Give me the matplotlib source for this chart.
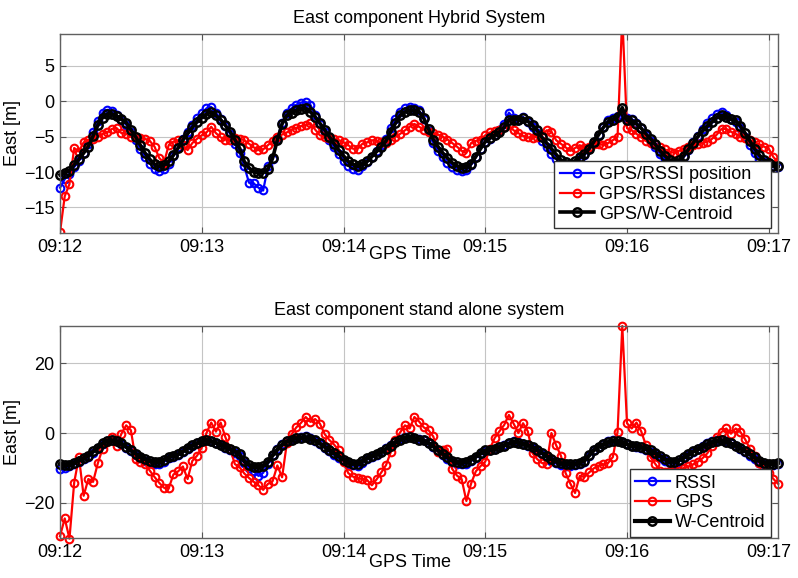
import numpy as np
import matplotlib
matplotlib.use("Agg")
import matplotlib.pyplot as plt

plt.rcParams['font.family'] = ['Liberation Sans', 'DejaVu Sans']

# seconds after 09:12:00, one sample every 2 s
step = 2
tick_pos = [0, 60, 120, 180, 240, 300]
tick_labels = ['09:12', '09:13', '09:14', '09:15', '09:16', '09:17']

# ---- hybrid system (top) ----
hyb_pos = [
    -12.2, -11.0, -10.2, -9.3, -8.4, -7.3, -6.0, -4.4, -2.8, -1.6,
    -1.2, -1.4, -2.0, -2.6, -3.3, -4.4, -5.5, -6.7, -7.8, -8.8,
    -9.5, -9.9, -9.5, -8.8, -7.7, -6.5, -5.3, -4.3, -3.3, -2.4,
    -1.7, -1.0, -0.8, -1.6, -2.5, -3.5, -4.6, -6.0, -7.3, -9.2,
    -11.5, -11.6, -12.2, -12.6, -9.2, -8.2, -5.2, -3.0, -1.6, -1.0,
    -0.5, -0.2, -0.1, -0.5, -2.0, -3.2, -4.3, -5.4, -6.5, -7.5,
    -8.4, -9.1, -9.6, -9.7, -9.2, -8.6, -7.8, -7.0, -6.2, -5.3,
    -3.8, -2.5, -1.5, -1.0, -0.8, -1.0, -1.3, -2.5, -4.2, -5.9,
    -7.0, -7.9, -8.7, -9.3, -9.7, -9.9, -9.7, -9.0, -7.9, -6.7,
    -5.8, -5.3, -4.8, -4.1, -3.2, -1.6, -2.4, -2.6, -2.2, -2.9,
    -3.6, -4.5, -5.6, -6.5, -7.4, -8.1, -8.8, -9.1, -9.2, -8.8,
    -8.2, -7.6, -6.8, -5.8, -4.7, -3.6, -2.7, -2.4, -2.1, -2.0,
    -2.3, -2.5, -3.0, -3.8, -4.8, -5.6, -6.4, -7.4, -8.2, -8.8,
    -9.0, -8.7, -7.9, -6.9, -5.8, -4.9, -3.9, -3.0, -2.4, -1.8,
    -1.5, -1.9, -2.5, -2.9, -3.8, -5.0, -6.2, -7.3, -8.1, -8.6,
    -8.9, -9.2, -9.3]

hyb_dist = [
    -18.5, -13.4, -11.7, -6.6, -7.1, -5.8, -5.5, -5.3, -5.0, -4.6,
    -4.4, -3.9, -3.8, -4.5, -4.6, -5.0, -5.1, -5.2, -5.3, -5.6,
    -6.4, -8.0, -8.7, -6.2, -5.7, -5.5, -6.2, -6.9, -5.9, -5.3,
    -4.8, -4.4, -3.6, -4.5, -5.1, -5.4, -5.5, -5.2, -5.3, -5.5,
    -6.0, -6.5, -6.9, -6.8, -6.2, -5.6, -5.0, -4.7, -4.4, -4.0,
    -3.8, -3.5, -3.4, -3.1, -4.0, -4.8, -5.0, -5.2, -5.3, -5.5,
    -5.8, -6.2, -6.7, -6.7, -6.0, -5.8, -5.5, -5.6, -5.8, -5.9,
    -5.4, -5.0, -4.6, -4.1, -3.6, -3.2, -3.6, -4.0, -4.3, -4.5,
    -4.7, -5.0, -5.4, -5.9, -6.4, -7.0, -7.3, -5.9, -5.6, -5.4,
    -4.8, -4.4, -4.2, -4.0, -3.7, -3.4, -4.1, -4.5, -4.9, -5.1,
    -5.2, -5.0, -4.8, -4.1, -4.3, -5.5, -6.0, -6.5, -7.0, -6.6,
    -6.2, -6.6, -6.4, -6.0, -6.0, -6.2, -5.9, -5.5, -5.0, 12.0,
    -3.8, -4.1, -4.6, -5.1, -5.6, -5.9, -6.1, -6.4, -6.8, -7.1,
    -7.3, -7.0, -6.7, -6.4, -6.2, -6.1, -5.9, -5.7, -5.3, -4.7,
    -3.9, -3.9, -4.3, -4.6, -5.0, -5.2, -5.5, -5.8, -6.1, -6.4,
    -6.7, -7.9, -8.6]

hyb_wc = [
    -10.4, -10.1, -9.8, -9.0, -8.2, -7.3, -6.4, -4.9, -3.4, -2.3,
    -1.8, -1.8, -2.1, -2.5, -3.0, -4.0, -5.0, -6.2, -7.3, -8.2,
    -8.9, -9.2, -9.0, -8.5, -7.6, -6.6, -5.5, -4.6, -3.7, -2.9,
    -2.3, -1.8, -1.5, -2.0, -2.6, -3.4, -4.3, -5.4, -6.6, -8.5,
    -9.4, -10.0, -10.1, -10.1, -9.6, -8.0, -5.5, -3.2, -2.0, -1.6,
    -1.3, -1.1, -1.0, -1.5, -2.2, -3.1, -4.0, -5.0, -6.0, -6.9,
    -7.7, -8.5, -8.9, -9.2, -8.9, -8.5, -7.8, -7.1, -6.4, -5.6,
    -4.3, -3.1, -2.0, -1.5, -1.3, -1.3, -1.5, -2.4, -3.9, -5.4,
    -6.4, -7.3, -8.0, -8.7, -9.1, -9.4, -9.3, -8.8, -7.8, -6.7,
    -5.7, -5.2, -4.8, -4.3, -3.7, -2.6, -2.6, -2.6, -2.4, -2.8,
    -3.4, -4.1, -5.1, -5.9, -6.7, -7.5, -8.3, -8.6, -8.8, -8.4,
    -7.9, -7.4, -6.7, -5.7, -4.7, -3.7, -2.9, -2.6, -2.2, -0.9,
    -2.7, -2.7, -3.2, -3.8, -4.6, -5.3, -6.1, -7.0, -7.7, -8.3,
    -8.6, -8.3, -7.7, -6.8, -5.9, -5.0, -4.2, -3.5, -2.9, -2.3,
    -2.0, -2.2, -2.5, -2.7, -3.5, -4.5, -5.6, -6.7, -7.6, -8.3,
    -8.7, -9.1, -9.2]

# ---- stand alone system (bottom) ----
sa_rssi = [
    -10.3, -10.0, -9.6, -8.9, -8.2, -7.5, -6.8, -5.6, -4.4, -3.1,
    -2.3, -2.0, -2.4, -3.1, -4.2, -5.3, -6.3, -7.2, -7.9, -8.5,
    -8.9, -9.0, -8.3, -7.3, -6.8, -6.3, -5.5, -4.5, -3.6, -2.9,
    -2.3, -2.0, -2.2, -2.8, -3.4, -4.2, -4.9, -5.7, -6.6, -8.6,
    -10.0, -11.0, -12.3, -11.4, -8.8, -6.4, -4.6, -3.2, -2.2, -1.7,
    -1.3, -1.2, -1.0, -1.5, -2.2, -3.2, -4.2, -5.3, -6.3, -7.2,
    -8.1, -8.9, -9.3, -9.4, -8.5, -7.4, -6.8, -6.2, -5.4, -4.4,
    -3.4, -2.4, -1.7, -1.2, -1.0, -1.4, -1.8, -2.1, -3.0, -4.0,
    -5.3, -6.4, -7.5, -8.4, -8.9, -9.0, -8.8, -8.0, -7.1, -6.0,
    -5.1, -4.9, -4.6, -4.1, -3.5, -2.8, -2.4, -2.7, -3.1, -3.6,
    -4.2, -5.1, -6.1, -7.0, -7.9, -8.7, -9.2, -9.4, -9.4, -9.3,
    -8.9, -8.2, -6.6, -5.0, -3.9, -3.1, -2.4, -2.0, -2.1, -2.6,
    -3.2, -3.7, -4.0, -4.3, -4.9, -5.5, -6.3, -7.1, -8.0, -8.7,
    -8.8, -8.2, -7.3, -6.3, -5.4, -4.6, -3.8, -3.0, -2.4, -2.0,
    -1.9, -2.4, -3.0, -3.7, -4.5, -5.5, -6.5, -7.5, -8.5, -9.0,
    -9.2, -9.1, -8.9]

sa_gps = [
    -29.6, -24.5, -30.3, -14.2, -6.9, -18.0, -13.2, -14.0, -8.7, -4.5,
    -2.6, -1.2, -3.6, -0.2, 2.2, 0.8, -7.5, -8.2, -8.9, -10.8,
    -12.6, -14.3, -15.7, -15.9, -11.9, -11.0, -9.6, -13.2, -8.0, -6.5,
    -4.2, 0.0, 3.0, 0.4, 3.0, -1.2, -4.5, -8.9, -9.8, -11.6,
    -12.9, -14.0, -15.0, -16.3, -14.6, -13.8, -9.3, -12.7, -3.0, -0.4,
    1.6, 2.9, 4.6, 3.2, 4.0, 2.7, -0.3, -2.0, -3.3, -5.0,
    -8.2, -11.5, -12.5, -13.0, -13.2, -13.5, -15.0, -13.3, -11.3, -9.2,
    -5.5, -2.0, 0.2, 2.2, 1.3, 4.6, 3.3, 1.6, 0.8, -1.0,
    -5.5, -5.0, -4.5, -10.3, -12.2, -13.2, -19.5, -14.5, -11.0, -9.5,
    -8.2, -4.5, -1.4, 0.5, 2.3, 5.2, 2.7, 0.0, 2.8, 0.5,
    -5.8, -7.5, -8.6, -8.9, 0.0, -3.5, -6.5, -11.5, -14.5, -17.2,
    -12.3, -12.6, -11.3, -10.1, -9.4, -9.0, -8.6, -6.9, 0.3, 30.7,
    2.8, 1.3, 3.0, 0.5, -3.5, -7.0, -8.9, -10.8, -11.3, -11.0,
    -10.5, -10.8, -10.0, -9.6, -9.0, -8.2, -7.2, -5.8, -3.6, -1.2,
    0.3, 1.3, -0.2, 1.3, 0.3, -1.8, -4.5, -6.5, -8.5, -10.0,
    -11.5, -13.2, -14.6]

sa_wc = [
    -8.9, -9.2, -9.2, -8.5, -7.9, -7.2, -6.5, -5.3, -4.2, -3.0,
    -2.3, -2.1, -2.4, -3.0, -4.0, -5.0, -5.9, -6.8, -7.4, -8.0,
    -8.3, -8.4, -7.7, -6.9, -6.5, -6.1, -5.3, -4.3, -3.5, -2.9,
    -2.4, -2.1, -2.3, -2.8, -3.3, -4.0, -4.6, -5.3, -6.1, -8.1,
    -9.1, -9.7, -9.8, -9.5, -8.3, -6.4, -4.8, -3.4, -2.4, -1.9,
    -1.5, -1.4, -1.2, -1.6, -2.1, -3.0, -3.9, -4.9, -5.8, -6.7,
    -7.6, -8.4, -8.8, -8.9, -8.0, -7.1, -6.6, -6.1, -5.4, -4.5,
    -3.6, -2.6, -1.9, -1.4, -1.2, -1.5, -1.9, -2.1, -2.9, -3.8,
    -5.0, -6.0, -7.0, -7.9, -8.4, -8.5, -8.3, -7.6, -6.8, -5.8,
    -5.0, -4.8, -4.5, -4.1, -3.6, -3.0, -2.6, -2.8, -3.1, -3.5,
    -4.0, -4.8, -5.7, -6.6, -7.5, -8.2, -8.7, -8.9, -8.9, -8.9,
    -8.5, -7.9, -6.4, -4.9, -3.9, -3.2, -2.6, -2.2, -2.3, -2.7,
    -3.2, -3.6, -3.8, -4.0, -4.5, -5.0, -5.8, -6.6, -7.5, -8.2,
    -8.3, -7.8, -7.0, -6.1, -5.3, -4.6, -3.9, -3.2, -2.6, -2.3,
    -2.1, -2.5, -3.0, -3.6, -4.3, -5.2, -6.1, -7.0, -8.0, -8.6,
    -8.9, -8.9, -8.6]


def tx(v):
    return np.arange(len(v)) * step


def style_ax(ax, ylim, yticks):
    ax.set_xlim(0, 304)
    ax.set_ylim(*ylim)
    ax.set_xticks(tick_pos)
    ax.set_xticklabels(tick_labels)
    ax.set_yticks(yticks)
    ax.grid(True, color='#c4c4c4', lw=0.8, ls='-')
    ax.set_axisbelow(True)
    ax.tick_params(direction='in', length=4, top=True, right=True,
                   labelsize=13, pad=4, color='#555555')
    for s in ax.spines.values():
        s.set_color('#606060')
        s.set_linewidth(1.0)
    ax.set_ylabel('East [m]', fontsize=13, labelpad=2)
    ax.set_xlabel('GPS Time', fontsize=13)


fig = plt.figure(figsize=(7.98, 5.78), dpi=100)
ax1 = fig.add_axes([0.0752, 0.5969, 0.900, 0.3443])
ax2 = fig.add_axes([0.0752, 0.0687, 0.900, 0.3673])

mk = dict(marker='o', mfc='none', ms=5.5, mew=1.5)
mk_wc = dict(marker='o', mfc='none', ms=6.0, mew=1.8)

ax1.plot(tx(hyb_pos), hyb_pos, color='#0000ff', lw=1.6, label='GPS/RSSI position', clip_on=False, **mk)
ax1.plot(tx(hyb_dist), hyb_dist, color='#ff0000', lw=1.6, label='GPS/RSSI distances', **mk)
ax1.plot(tx(hyb_wc), hyb_wc, color='black', lw=2.6, label='GPS/W-Centroid', clip_on=False, **mk_wc)
style_ax(ax1, (-18.6, 9.5), [-15, -10, -5, 0, 5])
ax1.set_title('East component Hybrid System', fontsize=13, pad=8)
ax1.xaxis.set_label_coords(0.487, -0.065)
leg1 = ax1.legend(loc='lower right', bbox_to_anchor=(0.990, 0.025), fontsize=13,
                  handlelength=1.9, handletextpad=0.3, labelspacing=0.15,
                  borderpad=0.3, borderaxespad=0, fancybox=False, framealpha=1)
leg1.get_frame().set_edgecolor('#333333')

ax2.plot(tx(sa_rssi), sa_rssi, color='#0000ff', lw=1.6, label='RSSI', clip_on=False, **mk)
ax2.plot(tx(sa_gps), sa_gps, color='#ff0000', lw=1.6, label='GPS', clip_on=False, **mk)
ax2.plot(tx(sa_wc), sa_wc, color='black', lw=3.0, label='W-Centroid', clip_on=False, **mk_wc)
style_ax(ax2, (-30.2, 30.7), [-20, 0, 20])
ax2.set_title('East component stand alone system', fontsize=13, pad=8)
ax2.xaxis.set_label_coords(0.487, -0.075)
leg2 = ax2.legend(loc='lower right', bbox_to_anchor=(0.990, 0.008), fontsize=13,
                  handlelength=1.9, handletextpad=0.3, labelspacing=0.15,
                  borderpad=0.3, borderaxespad=0, fancybox=False, framealpha=1)
leg2.get_frame().set_edgecolor('#333333')

fig.savefig('out.png', dpi=100)
